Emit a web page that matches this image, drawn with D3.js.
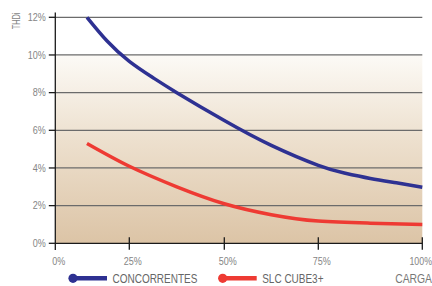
<!DOCTYPE html>
<html lang="es">
<head>
  <meta charset="UTF-8">
  <script src="https://cdn.jsdelivr.net/npm/d3@7"></script>
  <title>THDi vs Carga</title>
  <style>
    body { margin: 0; background: #fff; }
    text { font-family: "Liberation Sans", Arial, sans-serif; }
  </style>
</head>
<body>
  <svg width="432" height="286" id="chart"></svg>
  <script>
    // data
    let competitorsLoad = [10.7, 17.5, 25, 31.25, 37.5, 50, 62.5, 75, 81.25, 87.5, 93.75, 100];
    let competitors = [12.0, 10.74, 9.66, 8.79, 8.0, 6.52, 5.2, 4.14, 3.73, 3.44, 3.21, 2.98];
    let slcLoad = [10.7, 25, 37.5, 50, 62.5, 75, 87.5, 100];
    let slc = [5.3, 4.09, 3.0, 2.1, 1.52, 1.18, 1.07, 1.0];
    let xTicks = [0, 25, 50, 75, 100];
    let yTicks = [0, 2, 4, 6, 8, 10, 12];
    let seriesNames = ["CONCORRENTES", "SLC CUBE3+"];
    let seriesColors = ["#2e3192", "#ee3a33"];

    let svg = d3.select("#chart");

    // narrow text: the original uses a condensed font, so squeeze a normal one
    function label(px, py, str, size, squeeze, anchor, color) {
      return svg.append("text")
        .attr("transform", "translate(" + px + "," + py + ") scale(" + squeeze + ",1)")
        .attr("text-anchor", anchor)
        .attr("font-size", size)
        .attr("fill", color)
        .text(str);
    }

    /* SCALES */
    // the original axis ticks are not evenly spaced
    let x = d3.scaleLinear()
      .domain([0, 25, 50, 75, 100])
      .range([55.3, 129.3, 224.3, 318.3, 422.3]);
    let y = d3.scaleLinear()
      .domain([0, 12])
      .range([243.3, 17.3]);

    /* BACKGROUND */
    let defs = svg.append("defs");
    let grad = defs.append("linearGradient")
      .attr("id", "bg").attr("x1", 0).attr("y1", 0).attr("x2", 0).attr("y2", 1);
    grad.append("stop").attr("offset", "0%").attr("stop-color", "#fcfaf6");
    grad.append("stop").attr("offset", "45%").attr("stop-color", "#ede0ce");
    grad.append("stop").attr("offset", "100%").attr("stop-color", "#dcc4a6");

    svg.append("rect")
      .attr("x", x(0)).attr("y", y(10))
      .attr("width", x(100) - x(0)).attr("height", y(0) - y(10))
      .attr("fill", "url(#bg)");

    /* GRID */
    svg.selectAll(".grid")
      .data(yTicks.filter(d => d > 0))
      .enter().append("line")
      .attr("x1", x(0)).attr("x2", x(100))
      .attr("y1", d => y(d)).attr("y2", d => y(d))
      .attr("stroke", "#6b6b6b").attr("stroke-width", 1.2);

    /* LINES */
    let line = d3.line()
      .x(d => x(d[0]))
      .y(d => y(d[1]))
      .curve(d3.curveNatural);

    let series = [
      competitorsLoad.map((l, i) => [l, competitors[i]]),
      slcLoad.map((l, i) => [l, slc[i]])
    ];

    svg.selectAll(".serie")
      .data(series)
      .enter().append("path")
      .attr("d", line)
      .attr("fill", "none")
      .attr("stroke", (d, i) => seriesColors[i])
      .attr("stroke-width", 3.5);

    /* AXES */
    let axisColor = "#1a1a1a";
    svg.append("line")
      .attr("x1", x(0)).attr("x2", x(0))
      .attr("y1", 12.5).attr("y2", 250)
      .attr("stroke", axisColor).attr("stroke-width", 1.3);
    svg.append("line")
      .attr("x1", x(0)).attr("x2", x(100))
      .attr("y1", y(0)).attr("y2", y(0))
      .attr("stroke", axisColor).attr("stroke-width", 1.3);

    // y ticks and labels
    svg.selectAll(".ytick")
      .data(yTicks)
      .enter().append("line")
      .attr("x1", x(0) - 6.5).attr("x2", x(0))
      .attr("y1", d => y(d)).attr("y2", d => y(d))
      .attr("stroke", axisColor).attr("stroke-width", 1.3);
    yTicks.forEach(d => label(45.8, y(d) + 3.8, d + "%", 10.5, 0.86, "end", "#858585"));

    // x ticks and labels
    svg.selectAll(".xtick")
      .data(xTicks.filter(d => d > 0))
      .enter().append("line")
      .attr("x1", d => x(d)).attr("x2", d => x(d))
      .attr("y1", y(0) - 6).attr("y2", y(0) + 6.5)
      .attr("stroke", axisColor).attr("stroke-width", 1.3);
    xTicks.forEach(d => {
      if (d == 100) label(432, 265, d + "%", 10.5, 0.84, "end", "#858585");
      else label(x(d) + 3.5, 265, d + "%", 10.5, 0.86, "middle", "#858585");
    });

    // axis titles
    label(0, 0, "THDi", 10.5, 0.7, "middle", "#858585")
      .attr("transform", "translate(19.8,21) rotate(-90) scale(0.7,1)");
    label(432, 283, "CARGA", 12.5, 0.83, "end", "#777");

    /* LEGEND */
    let legendX = [73, 222.7];
    let legend = svg.selectAll(".legend")
      .data(seriesNames)
      .enter().append("g")
      .attr("transform", (d, i) => "translate(" + legendX[i] + ",278.3)");
    legend.append("line")
      .attr("x1", 0).attr("x2", 34)
      .attr("stroke", (d, i) => seriesColors[i]).attr("stroke-width", 4.5);
    legend.append("circle")
      .attr("r", 4.6)
      .attr("fill", (d, i) => seriesColors[i]);
    legend.append("text")
      .attr("transform", "translate(39.5,5) scale(0.8,1)")
      .attr("font-size", 12.5)
      .attr("fill", "#666")
      .text(d => d);
  </script>
</body>
</html>
